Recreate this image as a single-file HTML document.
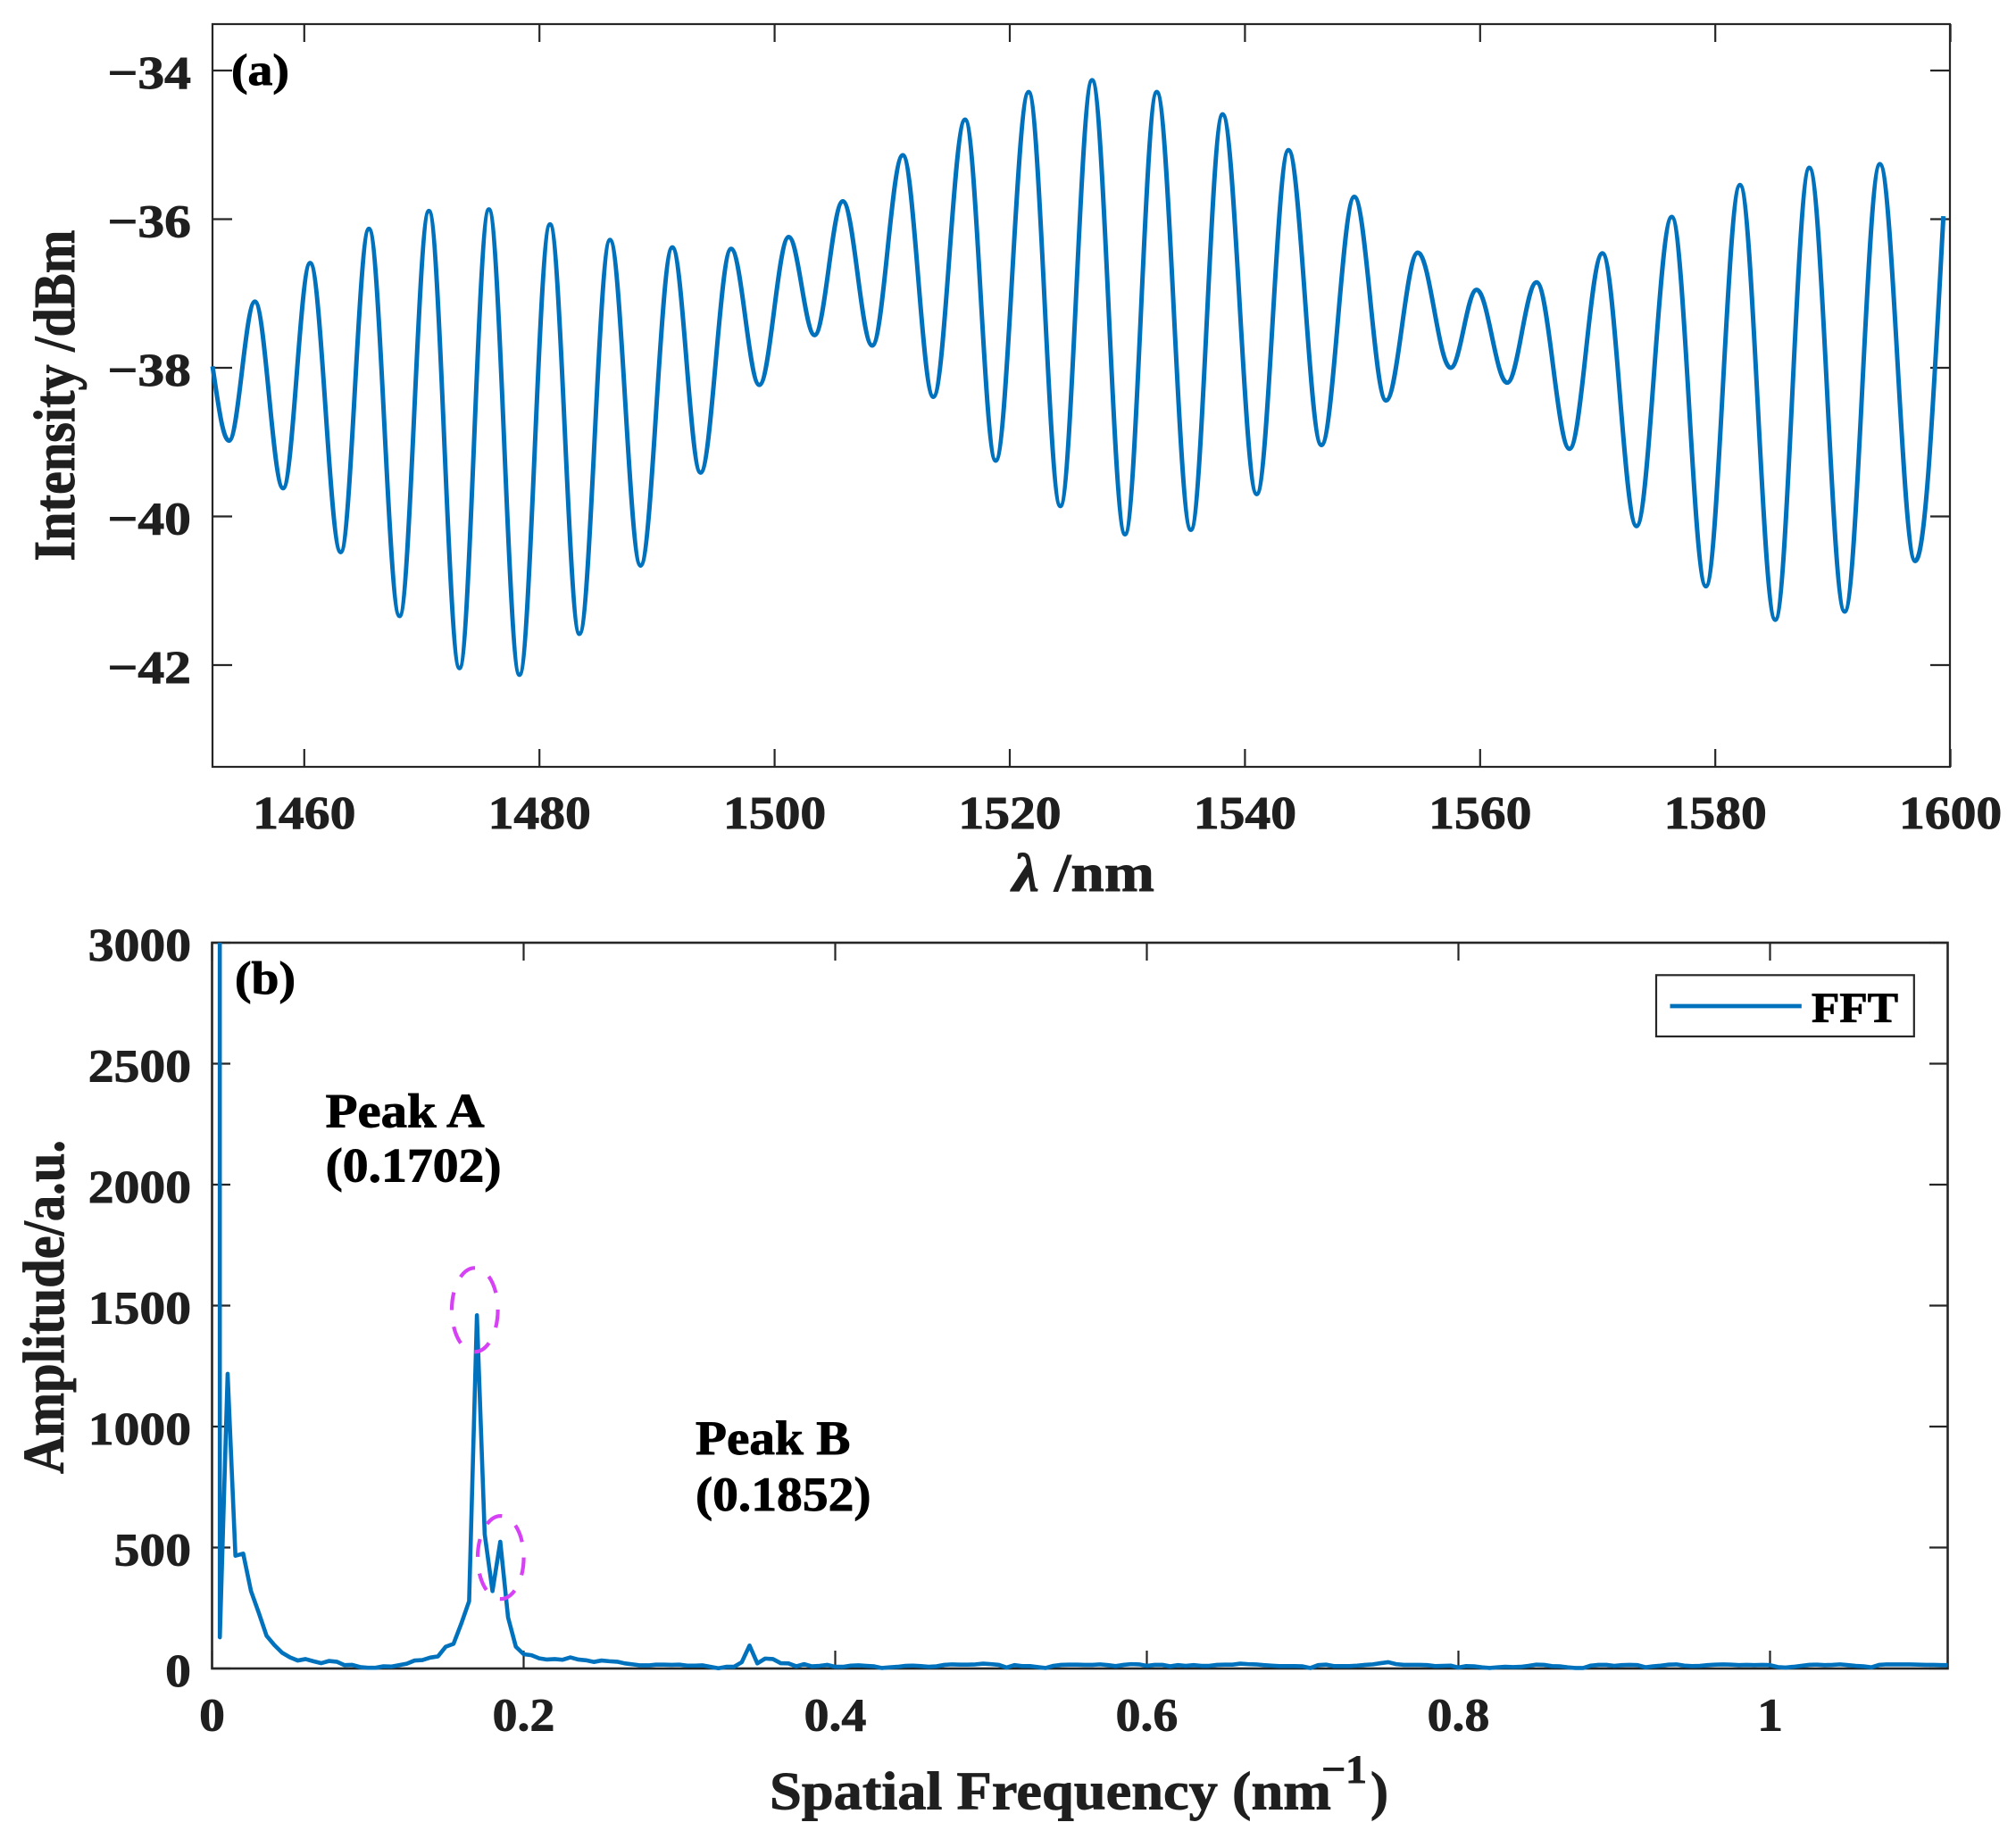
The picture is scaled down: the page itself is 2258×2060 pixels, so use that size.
<!DOCTYPE html>
<html>
<head>
<meta charset="utf-8">
<title>Interference spectrum and FFT</title>
<style>
html,body{margin:0;padding:0;background:#fff;width:2258px;height:2060px;overflow:hidden}
svg{display:block}
text{font-family:"Liberation Serif",serif;font-weight:bold;fill:#1f1f1f;stroke:#1f1f1f;stroke-width:0.9px}
.black{fill:#000;stroke:#000}
</style>
</head>
<body>
<svg id="figure" xmlns="http://www.w3.org/2000/svg" width="2258" height="2060" viewBox="0 0 2258 2060">
  <rect x="0" y="0" width="2258" height="2060" fill="#fff"/>
  <defs>
    <clipPath id="clip-b"><rect x="238" y="1056" width="1943.5" height="815"/></clipPath>
  </defs>

  <g id="panel-a">
    <rect x="238" y="27" width="1946" height="832" fill="none" stroke="#262626" stroke-width="2.2"/>
    <g id="ticks-a"></g>
    <path id="line-a" fill="none" stroke="#0072bd" stroke-width="5" stroke-linejoin="round"/>
    <text class="black" x="259" y="95" font-size="50" textLength="65" lengthAdjust="spacingAndGlyphs">(a)</text>
    <text x="1134" y="998" font-size="60" textLength="159" lengthAdjust="spacingAndGlyphs"><tspan font-style="italic">λ</tspan> /nm</text>
    <text transform="translate(83,628.6) rotate(-90)" x="0" y="0" font-size="66" textLength="371" lengthAdjust="spacingAndGlyphs">Intensity /dBm</text>
  </g>

  <g id="panel-b">
    <rect x="237.5" y="1056" width="1944" height="813" fill="none" stroke="#262626" stroke-width="2.6"/>
    <g id="ticks-b"></g>
    <path id="line-b" clip-path="url(#clip-b)" fill="none" stroke="#0072bd" stroke-width="4.6" stroke-linejoin="round"/>
    <ellipse cx="531.8" cy="1467.3" rx="25.8" ry="47" fill="none" stroke="#d741f5" stroke-width="4.2" stroke-dasharray="20 18.8"/>
    <ellipse cx="560.8" cy="1744.6" rx="25.8" ry="46.5" fill="none" stroke="#d741f5" stroke-width="4.2" stroke-dasharray="20 18.8"/>
    <text class="black" x="263" y="1113" font-size="52" textLength="68" lengthAdjust="spacingAndGlyphs">(b)</text>
    <text class="black" x="364.6" y="1262.6" font-size="54" textLength="178" lengthAdjust="spacingAndGlyphs">Peak A</text>
    <text class="black" x="364.6" y="1323.5" font-size="54" textLength="197" lengthAdjust="spacingAndGlyphs">(0.1702)</text>
    <text class="black" x="779" y="1629" font-size="54" textLength="173.4" lengthAdjust="spacingAndGlyphs">Peak B</text>
    <text class="black" x="779" y="1692" font-size="54" textLength="196.5" lengthAdjust="spacingAndGlyphs">(0.1852)</text>
    <g>
      <rect x="1855" y="1092.3" width="288.8" height="68.7" fill="#fff" stroke="#262626" stroke-width="2.2"/>
      <line x1="1870.5" y1="1127" x2="2017.8" y2="1127" stroke="#0072bd" stroke-width="4.8"/>
      <text class="black" x="2029" y="1145" font-size="48" textLength="97" lengthAdjust="spacingAndGlyphs">FFT</text>
    </g>
    <text x="862" y="2026.7" font-size="60" textLength="629" lengthAdjust="spacingAndGlyphs">Spatial Frequency (nm</text>
    <text x="1480" y="1996.7" font-size="44" textLength="51" lengthAdjust="spacingAndGlyphs">−1</text>
    <text x="1535" y="2026.7" font-size="60" textLength="20" lengthAdjust="spacingAndGlyphs">)</text>
    <text transform="translate(71,1651) rotate(-90)" x="0" y="0" font-size="66" textLength="374" lengthAdjust="spacingAndGlyphs">Amplitude/a.u.</text>
  </g>
</svg>

<script>
// Panel (a): turning points of the spectrum
const spectrumWavelengths = [1452.2,1453.6,1455.8,1458.2,1460.5,1463.1,1465.5,1468.1,1470.6,1473.2,1475.7,1478.3,1480.9,1483.4,1486.0,1488.6,1491.3,1493.7,1496.3,1498.7,1501.2,1503.4,1505.8,1508.3,1510.9,1513.5,1516.2,1518.8,1521.6,1524.3,1527.0,1529.8,1532.5,1535.4,1538.1,1541.0,1543.7,1546.5,1549.3,1552.0,1554.7,1557.5,1559.7,1562.3,1564.8,1567.6,1570.4,1573.3,1576.3,1579.2,1582.1,1585.1,1588.0,1591.0,1594.0,1597.0,1599.4];
const spectrumIntensities = [-37.98,-38.98,-37.11,-39.62,-36.59,-40.48,-36.13,-41.34,-35.89,-42.04,-35.87,-42.13,-36.07,-41.58,-36.28,-40.66,-36.38,-39.41,-36.40,-38.23,-36.24,-37.56,-35.76,-37.70,-35.14,-38.39,-34.66,-39.25,-34.29,-39.86,-34.13,-40.24,-34.29,-40.18,-34.59,-39.70,-35.07,-39.04,-35.70,-38.44,-36.45,-38.00,-36.95,-38.20,-36.85,-39.09,-36.46,-40.13,-35.97,-40.94,-35.54,-41.39,-35.31,-41.28,-35.26,-40.60,-35.96];
const spectrumXTicks = [1460,1480,1500,1520,1540,1560,1580,1600];
const spectrumYTicks = [-34,-36,-38,-40,-42];
const spectrumYLabels = ['−34','−36','−38','−40','−42'];

// Panel (b): FFT amplitude per frequency bin (bin 0 runs far off scale)
const fftBinWidth = 0.005;
const fftAmplitudes = [500000,
129,1218,466,475,320,230,135,97,65,46,33,39,30,22,31,28,14,15,6,3,3,9,8,14,20,33,35,45,50,90,102,186,278,1460,555,320,524,211,90,59,55,42,37,39,36,46,
37,34,27,33,30,28,21,17,13,13,16,16,15,16,12,12,13,7,1,7,7,26,95,21,41,39,22,21,9,18,9,11,15,7,7,12,13,11,9,2,5,7,11,12,10,
7,9,15,17,16,16,17,20,18,15,4,14,10,10,6,2,11,15,16,16,15,15,17,14,10,15,18,17,11,15,15,9,14,11,14,11,11,15,16,16,20,18,17,14,12,
10,10,10,9,2,14,16,10,10,10,12,15,17,22,26,18,15,15,15,14,10,11,12,4,10,9,5,2,5,7,6,7,11,16,15,10,9,5,2,2,12,15,15,
11,14,15,14,5,9,12,16,17,12,10,11,14,16,17,16,14,15,14,15,14,6,4,7,11,15,16,14,15,17,14,11,9,5,15,17,17,17,17,16,15,15,14,14];
const fftXTicks = [0,0.2,0.4,0.6,0.8,1];
const fftXLabels = ['0','0.2','0.4','0.6','0.8','1'];
const fftYTicks = [0,500,1000,1500,2000,2500,3000];

const NS = 'http://www.w3.org/2000/svg';

function xA(wavelength){ return 340.8 + (wavelength - 1460) * 13.17; }
function yA(intensity){ return 79 + (-34 - intensity) * 83.25; }
function xB(frequency){ return 237.5 + frequency * 1745; }
function yB(amplitude){ return 1869 - amplitude * 0.271; }

function labelWidth(text){
  let w = 0;
  for (const c of text) {
    if (c === '−') w += 36;
    else if (c === '.') w += 12;
    else w += 28.8;
  }
  return w;
}

function addTick(parent, x1, y1, x2, y2, name){
  const el = document.createElementNS(NS, 'line');
  
  
  el.setAttribute('x1', x1);
  el.setAttribute('y1', y1);
  el.setAttribute('x2', x2);
  el.setAttribute('y2', y2);
  el.setAttribute('stroke', '#262626');
  el.setAttribute('stroke-width', '2.2');
  parent.appendChild(el);
}

function addLabel(parent, text, x, y, name){
  const el = document.createElementNS(NS, 'text');
  
  
  el.setAttribute('x', x);
  el.setAttribute('y', y);
  el.setAttribute('font-size', '52');
  el.setAttribute('textLength', labelWidth(text));
  el.setAttribute('lengthAdjust', 'spacingAndGlyphs');
  el.textContent = text;
  parent.appendChild(el);
}

// Smooth path through turning points: flat tangents at extrema, sloped at the two ends
function spectrumPath(){
  const n = spectrumWavelengths.length;
  const px = spectrumWavelengths.map(xA);
  const py = spectrumIntensities.map(yA);
  const slope = new Array(n).fill(0);
  slope[0] = 1.5 * (py[1] - py[0]) / (px[1] - px[0]);
  slope[n - 1] = 1.5 * (py[n - 1] - py[n - 2]) / (px[n - 1] - px[n - 2]);
  let d = 'M' + px[0].toFixed(2) + ' ' + py[0].toFixed(2);
  for (let i = 0; i < n - 1; i++) {
    const h = 0.3642 * (px[i + 1] - px[i]);
    d += 'C' + (px[i] + h).toFixed(2) + ' ' + (py[i] + slope[i] * h).toFixed(2) + ' ' +
         (px[i + 1] - h).toFixed(2) + ' ' + (py[i + 1] - slope[i + 1] * h).toFixed(2) + ' ' +
         px[i + 1].toFixed(2) + ' ' + py[i + 1].toFixed(2);
  }
  return d;
}

function fftPath(){
  let d = '';
  fftAmplitudes.forEach(function (amp, k) {
    d += (k === 0 ? 'M' : 'L') + xB(k * fftBinWidth).toFixed(2) + ' ' + yB(amp).toFixed(2);
  });
  return d;
}

document.getElementById('line-a').setAttribute('d', spectrumPath());
document.getElementById('line-b').setAttribute('d', fftPath());

const ticksA = document.getElementById('ticks-a');
spectrumXTicks.forEach(function (v) {
  const x = xA(v);
  addTick(ticksA, x, 859, x, 839, 'spectrum-x-tick');
  addTick(ticksA, x, 27, x, 47, 'spectrum-x-tick-top');
  const s = String(v);
  addLabel(ticksA, s, x - labelWidth(s) / 2, 928, 'spectrum-x-tick-label');
});
spectrumYTicks.forEach(function (v, i) {
  const y = yA(v);
  addTick(ticksA, 238, y, 260, y, 'spectrum-y-tick');
  addTick(ticksA, 2184, y, 2162, y, 'spectrum-y-tick-right');
  const s = spectrumYLabels[i];
  addLabel(ticksA, s, 214 - labelWidth(s), y + 20, 'spectrum-y-tick-label');
});

const ticksB = document.getElementById('ticks-b');
fftXTicks.forEach(function (v, i) {
  const x = xB(v);
  addTick(ticksB, x, 1869, x, 1849, 'fft-x-tick');
  addTick(ticksB, x, 1056, x, 1076, 'fft-x-tick-top');
  const s = fftXLabels[i];
  addLabel(ticksB, s, x - labelWidth(s) / 2, 1938.3, 'fft-x-tick-label');
});
fftYTicks.forEach(function (v) {
  const y = yB(v);
  addTick(ticksB, 237.5, y, 258, y, 'fft-y-tick');
  addTick(ticksB, 2181.5, y, 2161, y, 'fft-y-tick-right');
  const s = String(v);
  addLabel(ticksB, s, 214 - labelWidth(s), y + 20, 'fft-y-tick-label');
});
</script>
</body>
</html>
